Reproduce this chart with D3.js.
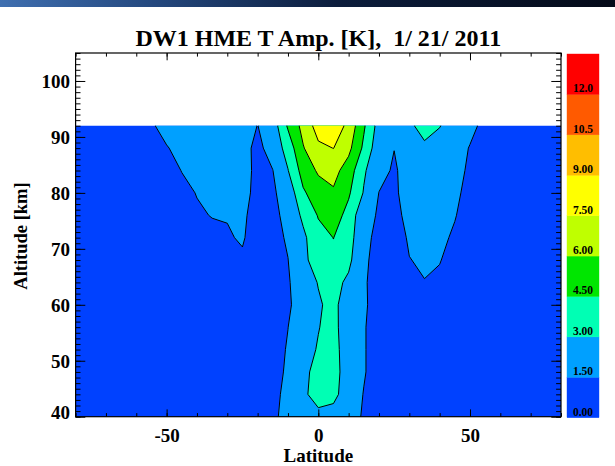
<!DOCTYPE html>
<html>
<head>
<meta charset="utf-8">
<script src="https://cdn.jsdelivr.net/npm/d3@7/dist/d3.min.js"></script>
<style>
  body { margin: 0; background: #ffffff; }
  svg text { font-family: "Liberation Serif", "Times New Roman", serif; font-weight: bold; fill: #000; }
</style>
</head>
<body>
<svg id="chart" width="615" height="466"></svg>
<script>
// Grid of the amplitude field: latitude columns, altitude rows (top row first)
const latitudes = [-80, -75, -70, -65, -60, -55, -50, -45, -40, -35, -30, -25, -20, -15, -10, -5,
                   0, 5, 10, 15, 20, 25, 30, 35, 40, 45, 50, 55, 60, 65, 70, 75, 80];
const altitudes = [92, 88, 84, 80, 76, 72, 68, 64, 60, 56, 52, 48, 44, 40];

// DW1 temperature amplitude [K], one row per altitude
const amp92 = [0.6, 0.7, 0.8, 0.9, 1.1, 1.4, 1.8, 2.1, 2.3, 2.4, 2.3, 2.0, 1.48, 2.2, 4.7, 6.46, 8.14, 8.5, 7.07, 4.7, 2.4, 2.2, 2.8, 3.4, 3.05, 2.4, 1.8, 1.2, 0.9, 0.8, 0.7, 0.6, 0.6];
const amp88 = [0.6, 0.7, 0.8, 0.8, 0.9, 1.1, 1.45, 1.75, 2.0, 2.2, 2.1, 1.9, 1.2, 2.0, 3.6, 5.9, 7.2, 7.52, 6.4, 4.2, 2.0, 1.52, 2.2, 2.8, 2.5, 2.0, 1.44, 1.1, 0.9, 0.8, 0.7, 0.6, 0.6];
const amp84 = [0.6, 0.6, 0.7, 0.8, 0.9, 1.0, 1.2, 1.52, 1.85, 2.0, 1.95, 1.8, 1.3, 1.48, 2.95, 5.1, 6.2, 6.5, 5.3, 3.2, 1.9, 1.35, 2.0, 2.4, 2.2, 1.9, 1.3, 1.0, 0.85, 0.75, 0.7, 0.6, 0.6];
const amp80 = [0.55, 0.6, 0.7, 0.75, 0.85, 0.95, 1.05, 1.3, 1.53, 1.75, 1.75, 1.7, 1.32, 1.35, 2.0, 4.3, 5.3, 5.81, 4.7, 2.9, 1.48, 1.3, 2.0, 2.2, 2.0, 1.7, 1.2, 0.9, 0.8, 0.7, 0.65, 0.6, 0.55];
const amp76 = [0.5, 0.55, 0.6, 0.7, 0.8, 0.9, 1.0, 1.2, 1.4, 1.53, 1.55, 1.6, 1.27, 1.2, 1.85, 3.3, 4.6, 5.2, 4.0, 1.85, 1.4, 1.1, 1.9, 2.0, 1.85, 1.55, 1.1, 0.85, 0.75, 0.7, 0.6, 0.55, 0.5];
const amp72 = [0.5, 0.5, 0.55, 0.6, 0.7, 0.8, 0.9, 1.0, 1.15, 1.3, 1.41, 1.6, 1.0, 1.1, 1.65, 2.7, 4.0, 4.52, 3.6, 1.85, 1.15, 0.9, 1.65, 1.8, 1.7, 1.37, 1.0, 0.8, 0.7, 0.6, 0.55, 0.5, 0.5];
const amp68 = [0.45, 0.5, 0.5, 0.55, 0.6, 0.7, 0.8, 0.9, 1.0, 1.1, 1.2, 1.36, 1.0, 1.05, 1.48, 2.6, 3.8, 4.2, 3.3, 1.8, 0.9, 0.8, 1.47, 1.65, 1.55, 1.1, 0.9, 0.75, 0.65, 0.6, 0.5, 0.5, 0.45];
const amp64 = [0.45, 0.45, 0.5, 0.5, 0.55, 0.6, 0.7, 0.8, 0.85, 0.9, 0.95, 1.0, 0.9, 1.0, 1.4, 2.1, 3.08, 3.4, 2.75, 1.7, 0.8, 0.8, 1.2, 1.47, 1.3, 1.0, 0.8, 0.7, 0.6, 0.55, 0.5, 0.45, 0.45];
const amp60 = [0.4, 0.45, 0.45, 0.5, 0.5, 0.55, 0.6, 0.7, 0.75, 0.8, 0.85, 0.9, 0.9, 1.0, 1.35, 2.0, 2.8, 3.5, 1.9, 1.7, 0.9, 0.8, 0.9, 1.1, 1.0, 0.9, 0.8, 0.7, 0.6, 0.55, 0.5, 0.45, 0.4];
const amp56 = [0.4, 0.4, 0.45, 0.45, 0.5, 0.55, 0.6, 0.65, 0.7, 0.75, 0.8, 0.85, 0.9, 1.0, 1.49, 2.2, 2.95, 3.45, 2.05, 1.6, 0.9, 0.8, 0.8, 0.9, 0.9, 0.8, 0.75, 0.65, 0.6, 0.5, 0.45, 0.4, 0.4];
const amp52 = [0.4, 0.4, 0.4, 0.45, 0.45, 0.5, 0.55, 0.6, 0.65, 0.7, 0.75, 0.8, 0.9, 1.1, 1.58, 2.5, 3.1, 3.5, 2.2, 1.6, 0.9, 0.75, 0.75, 0.8, 0.8, 0.75, 0.7, 0.6, 0.55, 0.5, 0.45, 0.4, 0.4];
const amp48 = [0.4, 0.4, 0.4, 0.4, 0.45, 0.5, 0.5, 0.55, 0.6, 0.65, 0.7, 0.75, 0.85, 1.15, 1.65, 2.7, 3.4, 3.6, 2.2, 1.6, 0.9, 0.7, 0.7, 0.75, 0.75, 0.7, 0.65, 0.55, 0.5, 0.45, 0.4, 0.4, 0.4];
const amp44 = [0.35, 0.4, 0.4, 0.4, 0.4, 0.45, 0.5, 0.5, 0.55, 0.6, 0.65, 0.7, 0.85, 1.25, 1.75, 2.75, 3.55, 3.35, 2.3, 1.45, 0.9, 0.7, 0.65, 0.7, 0.7, 0.65, 0.6, 0.5, 0.45, 0.45, 0.4, 0.4, 0.35];
const amp40 = [0.35, 0.35, 0.4, 0.4, 0.4, 0.4, 0.45, 0.5, 0.5, 0.55, 0.6, 0.65, 0.8, 1.3, 1.85, 2.3, 2.63, 2.5, 2.1, 1.35, 0.85, 0.65, 0.6, 0.65, 0.65, 0.6, 0.55, 0.5, 0.45, 0.4, 0.4, 0.35, 0.35];

// Contour levels, fill colours and colour-bar labels
const levels = [0, 1.5, 3, 4.5, 6, 7.5, 9, 10.5, 12];
const levelColors = ["#0041ff", "#00a0ff", "#00ffb4", "#00e600", "#bfff00", "#ffff00", "#ffbe00", "#ff5a00", "#ff0000"];
const levelLabels = ["0.00", "1.50", "3.00", "4.50", "6.00", "7.50", "9.00", "10.5", "12.0"];

// Axis ticks
const latMajor = [-50, 0, 50];
const latLabels = ["-50", "0", "50"];
const latMinor = [-80, -70, -60, -50, -40, -30, -20, -10, 0, 10, 20, 30, 40, 50, 60, 70, 80];
const altMajor = [40, 50, 60, 70, 80, 90, 100];
const altLabels = ["40", "50", "60", "70", "80", "90", "100"];
const altMinor = [40, 41, 42, 43, 44, 45, 46, 47, 48, 49, 50, 51, 52, 53, 54, 55, 56, 57, 58, 59, 60,
                  61, 62, 63, 64, 65, 66, 67, 68, 69, 70, 71, 72, 73, 74, 75, 76, 77, 78, 79, 80,
                  81, 82, 83, 84, 85, 86, 87, 88, 89, 90, 91, 92, 93, 94, 95, 96, 97, 98, 99, 100,
                  101, 102, 103, 104, 105];

const amplitude = [amp92, amp88, amp84, amp80, amp76, amp72, amp68, amp64, amp60, amp56, amp52, amp48, amp44, amp40];

const svg = d3.select("#chart");
const W = 615, H = 466;
const plot = { left: 75.6, right: 561, top: 53, bottom: 416.7 };

const x = d3.scaleLinear().domain([-80, 80]).range([plot.left, plot.right]);
const y = d3.scaleLinear().domain([40, 105]).range([plot.bottom, plot.top]);

// Dark banner strip along the top edge
const defs = svg.append("defs");
const grad = defs.append("linearGradient").attr("id", "banner").attr("x1", 0).attr("x2", 1).attr("y1", 0).attr("y2", 0);
grad.append("stop").attr("offset", "0%").attr("stop-color", "#3f6fb0");
grad.append("stop").attr("offset", "25%").attr("stop-color", "#24487e");
grad.append("stop").attr("offset", "55%").attr("stop-color", "#0c1d3c");
grad.append("stop").attr("offset", "100%").attr("stop-color", "#040a18");
svg.append("rect").attr("x", 0).attr("y", 0).attr("width", W).attr("height", 7).attr("fill", "url(#banner)");

// Title
svg.append("text")
  .attr("x", (plot.left + plot.right) / 2)
  .attr("y", 46)
  .attr("text-anchor", "middle")
  .attr("font-size", 24)
  .style("white-space", "pre")
  .text("DW1 HME T Amp. [K],  1/ 21/ 2011");

// Filled contours
const nx = latitudes.length, ny = altitudes.length;
const dLat = latitudes[1] - latitudes[0];
const dAlt = altitudes[1] - altitudes[0];
const gridTransform = d3.geoTransform({
  point(gx, gy) {
    const lat = latitudes[0] + (gx - 0.5) * dLat;
    const alt = altitudes[0] + (gy - 0.5) * dAlt;
    this.stream.point(x(lat), y(alt));
  }
});
const path = d3.geoPath(gridTransform);
const contours = d3.contours().size([nx, ny]).thresholds(levels)(amplitude.flat());

defs.append("clipPath").attr("id", "dataClip")
  .append("rect")
  .attr("x", x(latitudes[0])).attr("y", y(altitudes[0]))
  .attr("width", x(latitudes[nx - 1]) - x(latitudes[0]))
  .attr("height", y(altitudes[ny - 1]) - y(altitudes[0]));

const field = svg.append("g").attr("clip-path", "url(#dataClip)");
field.selectAll("path.fill").data(contours).join("path")
  .attr("class", "fill")
  .attr("d", path)
  .attr("fill", (d, i) => levelColors[i])
  .attr("stroke", (d, i) => levelColors[i])
  .attr("stroke-width", 0.5);
field.selectAll("path.line").data(contours.slice(1)).join("path")
  .attr("class", "line")
  .attr("d", path)
  .attr("fill", "none")
  .attr("stroke", "#000")
  .attr("stroke-width", 1);

// Axes: ticks on all four sides, labels on bottom and left
function styleAxis(g) {
  g.select(".domain").remove();
  g.selectAll(".tick line").attr("stroke", "#000").attr("stroke-width", 1);
  g.attr("font-family", null).attr("font-size", null);
}
svg.append("g").attr("transform", `translate(0,${plot.bottom})`)
  .call(d3.axisBottom(x).tickValues(latMinor).tickSize(-3.6).tickFormat(() => "")).call(styleAxis);
svg.append("g").attr("transform", `translate(0,${plot.top})`)
  .call(d3.axisTop(x).tickValues(latMinor).tickSize(-3.6).tickFormat(() => "")).call(styleAxis);
svg.append("g").attr("transform", `translate(0,${plot.top})`)
  .call(d3.axisTop(x).tickValues(latMajor).tickSize(-7.3).tickFormat(() => "")).call(styleAxis);
const xAxis = svg.append("g").attr("transform", `translate(0,${plot.bottom})`)
  .call(d3.axisBottom(x).tickValues(latMajor).tickSize(-7.3).tickPadding(0)
    .tickFormat((d, i) => latLabels[i])).call(styleAxis);
xAxis.selectAll("text").attr("y", 25).attr("dy", null).attr("font-size", 19);

svg.append("g").attr("transform", `translate(${plot.left},0)`)
  .call(d3.axisLeft(y).tickValues(altMinor).tickSize(-4.9).tickFormat(() => "")).call(styleAxis);
svg.append("g").attr("transform", `translate(${plot.right},0)`)
  .call(d3.axisRight(y).tickValues(altMinor).tickSize(-4.9).tickFormat(() => "")).call(styleAxis);
svg.append("g").attr("transform", `translate(${plot.right},0)`)
  .call(d3.axisRight(y).tickValues(altMajor).tickSize(-9.7).tickFormat(() => "")).call(styleAxis);
const yAxis = svg.append("g").attr("transform", `translate(${plot.left},0)`)
  .call(d3.axisLeft(y).tickValues(altMajor).tickSize(-9.7).tickPadding(5.5)
    .tickFormat((d, i) => altLabels[i])).call(styleAxis);
// the lowest label sits slightly above the bottom edge so it clears the axis labels
yAxis.selectAll("text").attr("dy", "0.34em").attr("font-size", 19)
  .attr("y", (d, i) => i === 0 ? -5 : 0);

// Plot frame
svg.append("rect")
  .attr("x", plot.left).attr("y", plot.top)
  .attr("width", plot.right - plot.left).attr("height", plot.bottom - plot.top)
  .attr("fill", "none").attr("stroke", "#000").attr("stroke-width", 1.2);

// Axis titles
svg.append("text")
  .attr("x", (plot.left + plot.right) / 2).attr("y", 462)
  .attr("text-anchor", "middle").attr("font-size", 19)
  .text("Latitude");
svg.append("text")
  .attr("transform", `translate(27,236) rotate(-90)`)
  .attr("text-anchor", "middle").attr("font-size", 18.5)
  .text("Altitude [km]");

// Colour bar
const bar = { left: 567, right: 599, top: 54, bottom: 417.7 };
const yBar = d3.scaleLinear().domain([0, levels.length]).range([bar.bottom, bar.top]);
const cb = svg.append("g");
cb.selectAll("rect").data(levels).join("rect")
  .attr("x", bar.left)
  .attr("y", (d, i) => yBar(i + 1))
  .attr("width", bar.right - bar.left)
  .attr("height", (d, i) => yBar(i) - yBar(i + 1))
  .attr("fill", (d, i) => levelColors[i])
  .attr("stroke", (d, i) => levelColors[i])
  .attr("stroke-width", 0.4);
cb.selectAll("text").data(levelLabels).join("text")
  .attr("x", (bar.left + bar.right) / 2)
  .attr("y", (d, i) => yBar(i) - 2)
  .attr("text-anchor", "middle")
  .attr("font-size", 11.5)
  .text(d => d);
</script>
</body>
</html>
